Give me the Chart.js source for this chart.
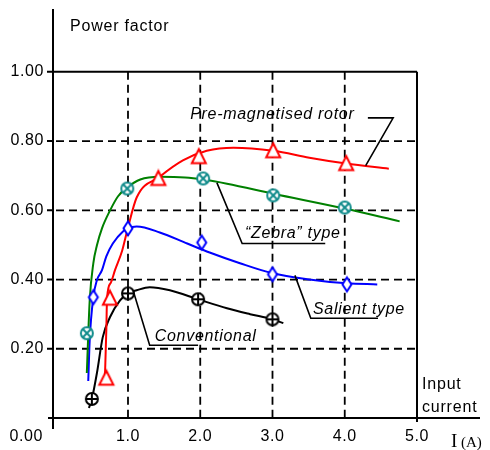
<!DOCTYPE html>
<html lang="en">
<head>
    <meta charset="UTF-8">
    <title>Power factor vs input current</title>
    <script src="https://cdn.jsdelivr.net/npm/chart.js@4.4.1/dist/chart.umd.min.js"></script>
    <style>
        body {
            margin: 0;
            padding: 0;
            background-color: #fff;
        }
        canvas {
            display: block;
        }
    </style>
</head>
<body>
    <canvas id="pfChart" width="490" height="450"></canvas>

    <script>
        // Tick labels
        const yTicks = [0.2, 0.4, 0.6, 0.8, 1.0];
        const xTicks = [1, 2, 3, 4, 5];

        // Pre-magnetised rotor (red triangles)
        const preX = [0.70, 0.75, 1.42, 1.98, 3.01, 4.02];
        const preY = [0.115, 0.346, 0.692, 0.755, 0.772, 0.735];
        const preCurveX = [0.68, 0.70, 0.71, 0.76, 0.82, 0.92, 0.99, 1.12, 1.44, 1.76, 2.09, 2.46, 3.01, 3.51, 4.02, 4.61];
        const preCurveY = [0.115, 0.254, 0.346, 0.390, 0.427, 0.484, 0.542, 0.637, 0.697, 0.744, 0.772, 0.781, 0.772, 0.752, 0.735, 0.720];

        // "Zebra" type (teal circle-x)
        const zebraX = [0.43, 0.99, 2.04, 3.01, 4.00];
        const zebraY = [0.245, 0.663, 0.692, 0.643, 0.608];
        const zebraCurveX = [0.43, 0.47, 0.52, 0.57, 0.64, 0.75, 0.86, 0.99, 1.17, 1.44, 1.79, 2.04, 2.37, 3.01, 4.00, 4.76];
        const zebraCurveY = [0.130, 0.340, 0.447, 0.499, 0.548, 0.599, 0.640, 0.666, 0.689, 0.697, 0.695, 0.689, 0.677, 0.648, 0.605, 0.568];

        // Salient type (blue diamonds)
        const salX = [0.52, 1.00, 2.02, 3.00, 4.03];
        const salY = [0.349, 0.548, 0.507, 0.415, 0.386];
        const salCurveX = [0.45, 0.47, 0.52, 0.57, 0.64, 0.70, 0.79, 0.93, 1.00, 1.12, 1.44, 1.82, 2.13, 2.55, 3.00, 3.48, 4.03, 4.45];
        const salCurveY = [0.107, 0.225, 0.349, 0.398, 0.427, 0.467, 0.504, 0.539, 0.548, 0.553, 0.536, 0.504, 0.478, 0.447, 0.418, 0.401, 0.389, 0.386];

        // Conventional (black circle-plus)
        const convX = [0.50, 1.00, 1.97, 3.00];
        const convY = [0.055, 0.360, 0.343, 0.285];
        const convCurveX = [0.46, 0.50, 0.57, 0.65, 0.75, 0.89, 1.00, 1.12, 1.30, 1.58, 1.97, 2.37, 2.69, 3.00, 3.15];
        const convCurveY = [0.029, 0.055, 0.130, 0.233, 0.291, 0.340, 0.360, 0.369, 0.378, 0.369, 0.343, 0.317, 0.300, 0.285, 0.274];

        const pts = (xs, ys) => xs.map((x, i) => ({ x: x, y: ys[i] }));

        // little canvases used as point styles
        function marker(kind, color) {
            const c = document.createElement('canvas');
            c.width = 20;
            c.height = 20;
            const g = c.getContext('2d');
            g.strokeStyle = color;
            g.fillStyle = '#fff';
            g.lineWidth = 2;
            g.beginPath();
            if (kind === 'triangle') {
                g.moveTo(10, 2.5); g.lineTo(17, 16.5); g.lineTo(3, 16.5); g.closePath();
                g.fill(); g.stroke();
            } else if (kind === 'diamond') {
                g.moveTo(10, 3); g.lineTo(14.5, 10); g.lineTo(10, 17); g.lineTo(5.5, 10); g.closePath();
                g.fill(); g.stroke();
            } else {
                g.arc(10, 10, 6, 0, Math.PI * 2);
                g.fill(); g.stroke();
                g.beginPath();
                if (kind === 'circlePlus') {
                    g.moveTo(4, 10); g.lineTo(16, 10);
                    g.moveTo(10, 4); g.lineTo(10, 16);
                } else {
                    g.moveTo(5.8, 5.8); g.lineTo(14.2, 14.2);
                    g.moveTo(14.2, 5.8); g.lineTo(5.8, 14.2);
                }
                g.stroke();
            }
            return c;
        }

        const sans = '"Liberation Sans", Arial, sans-serif';

        // axes, grid, tick labels and annotations
        const frame = {
            id: 'frame',
            beforeDatasetsDraw(chart) {
                const ctx = chart.ctx;
                const xs = chart.scales.x, ys = chart.scales.y;
                const px = v => xs.getPixelForValue(v), py = v => ys.getPixelForValue(v);
                const a = chart.chartArea;
                ctx.save();
                ctx.strokeStyle = '#000';
                ctx.lineWidth = 1.8;
                ctx.setLineDash([8, 5]);
                ctx.beginPath();
                yTicks.slice(0, -1).forEach(v => {
                    ctx.moveTo(a.left + 3, py(v)); ctx.lineTo(px(5), py(v));
                });
                xTicks.slice(0, -1).forEach(v => {
                    ctx.moveTo(px(v), py(1)); ctx.lineTo(px(v), py(0) + 2);
                });
                ctx.stroke();
                ctx.setLineDash([]);
                ctx.lineWidth = 2;
                ctx.beginPath();
                // box top and right side
                ctx.moveTo(a.left, py(1)); ctx.lineTo(px(5), py(1));
                ctx.moveTo(px(5), py(1)); ctx.lineTo(px(5), py(0) + 4);
                // axes
                ctx.moveTo(a.left, a.top); ctx.lineTo(a.left, py(0) + 11);
                ctx.moveTo(a.left - 5, py(0)); ctx.lineTo(a.right, py(0));
                yTicks.forEach(v => {
                    ctx.moveTo(a.left - 6, py(v)); ctx.lineTo(a.left, py(v));
                });
                ctx.stroke();
                ctx.restore();
            },
            afterDatasetsDraw(chart) {
                const ctx = chart.ctx;
                const xs = chart.scales.x, ys = chart.scales.y;
                const px = v => xs.getPixelForValue(v), py = v => ys.getPixelForValue(v);
                const a = chart.chartArea;
                ctx.save();
                ctx.fillStyle = '#000';
                ctx.font = '16px ' + sans;
                ctx.letterSpacing = '0.6px';
                ctx.textBaseline = 'middle';
                ctx.textAlign = 'right';
                yTicks.forEach(v => ctx.fillText(v.toFixed(2), a.left - 9, py(v)));
                ctx.fillText('0.00', a.left - 10, py(0) + 19);
                ctx.textAlign = 'center';
                xTicks.forEach(v => ctx.fillText(v.toFixed(1), px(v), py(0) + 19));
                ctx.textAlign = 'left';
                ctx.letterSpacing = '0.8px';
                ctx.fillText('Power factor', a.left + 17, 27);
                ctx.fillText('Input', px(5) + 5, 385);
                ctx.fillText('current', px(5) + 5, 408);
                ctx.letterSpacing = '0px';
                ctx.textBaseline = 'alphabetic';
                ctx.font = '19px "Liberation Serif", serif';
                ctx.fillText('I', px(5) + 34, py(0) + 29);
                ctx.font = '15px "Liberation Serif", serif';
                ctx.fillText('(A)', px(5) + 44, py(0) + 29);

                // leader lines to the curves
                ctx.lineWidth = 1.6;
                ctx.strokeStyle = '#000';
                const path = list => {
                    ctx.beginPath();
                    list.forEach((p, i) => i ? ctx.lineTo(px(p[0]), py(p[1])) : ctx.moveTo(px(p[0]), py(p[1])));
                    ctx.stroke();
                };
                path([[4.32, 0.867], [4.67, 0.867], [4.29, 0.729]]);
                path([[2.23, 0.680], [2.58, 0.504], [3.73, 0.504]]);
                path([[3.31, 0.412], [3.53, 0.288], [4.46, 0.288]]);
                path([[1.07, 0.369], [1.30, 0.210], [1.97, 0.210]]);

                ctx.font = 'italic 16px ' + sans;
                ctx.letterSpacing = '0.7px';
                ctx.textBaseline = 'middle';
                ctx.fillText('Pre-magnetised rotor', px(1.86), py(0.876));
                ctx.fillText('\u201CZebra\u201D type', px(2.62), py(0.533));
                ctx.fillText('Salient type', px(3.56), py(0.314));
                ctx.fillText('Conventional', px(1.37), py(0.236));
                ctx.restore();
            }
        };

        const ctx = document.getElementById('pfChart').getContext('2d');
        const curve = (xs, ys, color) => ({
            data: pts(xs, ys),
            showLine: true,
            borderColor: color,
            borderWidth: 2,
            pointRadius: 0,
            cubicInterpolationMode: 'monotone'
        });
        const dots = (xs, ys, style) => ({
            data: pts(xs, ys),
            showLine: false,
            pointStyle: style,
            pointRadius: 8
        });

        new Chart(ctx, {
            type: 'scatter',
            data: {
                datasets: [
                    dots(preX, preY, marker('triangle', '#ff0000')),
                    dots(zebraX, zebraY, marker('circleX', '#118c8c')),
                    dots(salX, salY, marker('diamond', '#0000ff')),
                    dots(convX, convY, marker('circlePlus', '#000000')),
                    curve(preCurveX, preCurveY, '#ff0000'),
                    curve(zebraCurveX, zebraCurveY, '#008000'),
                    curve(salCurveX, salCurveY, '#0000ff'),
                    curve(convCurveX, convCurveY, '#000000')
                ]
            },
            options: {
                responsive: false,
                animation: false,
                devicePixelRatio: 1,
                layout: { padding: { left: 53, right: 10, top: 8, bottom: 32 } },
                plugins: { legend: { display: false }, tooltip: { enabled: false } },
                scales: {
                    x: { type: 'linear', display: false, min: -0.038, max: 5.872 },
                    y: { type: 'linear', display: false, min: 0, max: 1.1816 }
                }
            },
            plugins: [frame]
        });
    </script>
</body>
</html>
